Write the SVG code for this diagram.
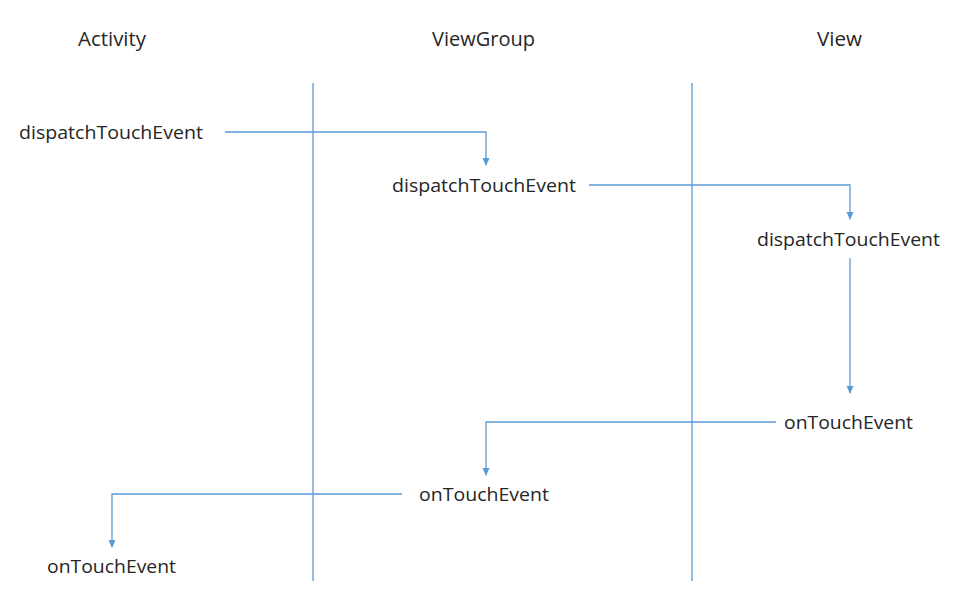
<svg xmlns="http://www.w3.org/2000/svg" width="961" height="596" viewBox="0 0 961 596">
<defs>
<style>
.t{font-family:"Open Sans","Noto Sans","Liberation Sans",sans-serif;font-size:18px;fill:#262626}
.h{font-family:"Open Sans","Noto Sans","Liberation Sans",sans-serif;font-size:19.5px;fill:#262626}
.ln{stroke:#5B9BD5;stroke-width:1.3;fill:none}
</style>
<marker id="ah" viewBox="0 0 8 8" refX="7" refY="4" markerWidth="8" markerHeight="8" markerUnits="userSpaceOnUse" orient="auto">
<path d="M0,0.5 L8,4 L0,7.5 Z" fill="#5B9BD5"/>
</marker>
</defs>
<rect width="961" height="596" fill="#fff"/>
<g id="headers">
<text class="h" x="78" y="46" textLength="68" lengthAdjust="spacingAndGlyphs">Activity</text>
<text class="h" x="432" y="46" textLength="103" lengthAdjust="spacingAndGlyphs">ViewGroup</text>
<text class="h" x="817" y="46" textLength="45" lengthAdjust="spacingAndGlyphs">View</text>
</g>
<g id="lanes">
<line class="ln" x1="313" y1="83" x2="313" y2="581"/>
<line class="ln" x1="692" y1="83" x2="692" y2="581"/>
</g>
<g id="node-activity-dispatch"><text class="t" x="19" y="139" textLength="184" lengthAdjust="spacingAndGlyphs">dispatchTouchEvent</text></g>
<g id="node-viewgroup-dispatch"><text class="t" x="392" y="192" textLength="184" lengthAdjust="spacingAndGlyphs">dispatchTouchEvent</text></g>
<g id="node-view-dispatch"><text class="t" x="757" y="246" textLength="183" lengthAdjust="spacingAndGlyphs">dispatchTouchEvent</text></g>
<g id="node-view-ontouch"><text class="t" x="784" y="429" textLength="129" lengthAdjust="spacingAndGlyphs">onTouchEvent</text></g>
<g id="node-viewgroup-ontouch"><text class="t" x="419" y="501" textLength="130" lengthAdjust="spacingAndGlyphs">onTouchEvent</text></g>
<g id="node-activity-ontouch"><text class="t" x="47" y="573" textLength="129" lengthAdjust="spacingAndGlyphs">onTouchEvent</text></g>
<g id="connectors">
<path class="ln" d="M225,132 H486 V165" marker-end="url(#ah)"/>
<path class="ln" d="M589,185 H850 V219" marker-end="url(#ah)"/>
<path class="ln" d="M850,258 V393" marker-end="url(#ah)"/>
<path class="ln" d="M776,422 H486 V475" marker-end="url(#ah)"/>
<path class="ln" d="M402,494 H112 V547" marker-end="url(#ah)"/>
</g>
</svg>
